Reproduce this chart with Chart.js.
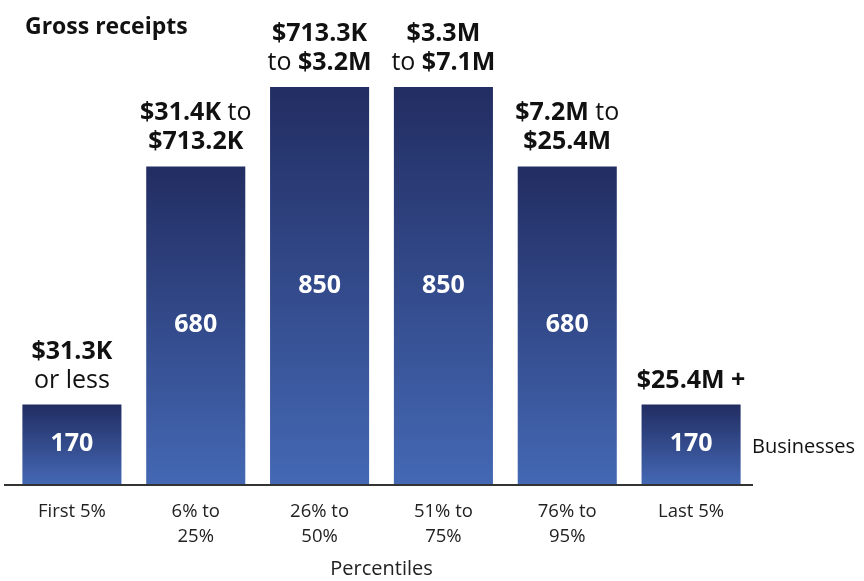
<!DOCTYPE html>
<html>
<head>
<meta charset="utf-8">
<script src="https://cdn.jsdelivr.net/npm/chart.js@4/dist/chart.umd.min.js"></script>
<style>
  html, body { margin: 0; padding: 0; background: #ffffff; }
  #wrap { width: 864px; height: 581px; position: relative; }
</style>
</head>
<body>
<div id="wrap"><canvas id="c" width="864" height="581"></canvas></div>
<script>
// ---- data ----
const categories = [
  ["First 5%"],
  ["6% to", "25%"],
  ["26% to", "50%"],
  ["51% to", "75%"],
  ["76% to", "95%"],
  ["Last 5%"]
];
const businesses = [170, 680, 850, 850, 680, 170];
// Gross-receipts range labels: lines of [text, isBold] segments
const rangeLabels = [
  [[["$31.3K", true]], [["or less", false]]],
  [[["$31.4K", true], [" to", false]], [["$713.2K", true]]],
  [[["$713.3K", true]], [["to ", false], ["$3.2M", true]]],
  [[["$3.3M", true]], [["to ", false], ["$7.1M", true]]],
  [[["$7.2M", true], [" to", false]], [["$25.4M", true]]],
  [[["$25.4M +", true]]]
];
const chartTitle = "Gross receipts";
const seriesName = "Businesses";
const axisTitle = "Percentiles";

const FONT = "'Open Sans', 'DejaVu Sans', sans-serif";

const overlay = {
  id: 'overlay',
  afterDatasetsDraw(chart) {
    const ctx = chart.ctx;
    const area = chart.chartArea;
    const meta = chart.getDatasetMeta(0);
    ctx.save();
    // axis line
    ctx.strokeStyle = '#333333';
    ctx.lineWidth = 2;
    ctx.beginPath();
    ctx.moveTo(area.left - 6, area.bottom + 1);
    ctx.lineTo(area.right, area.bottom + 1);
    ctx.stroke();

    meta.data.forEach((bar, i) => {
      // value inside bar
      ctx.fillStyle = '#ffffff';
      ctx.font = 'bold 25px ' + FONT;
      ctx.textAlign = 'center';
      ctx.textBaseline = 'middle';
      ctx.fillText(String(businesses[i]), bar.x, (bar.y + bar.base) / 2);
      // range label above bar
      ctx.textBaseline = 'alphabetic';
      const lines = rangeLabels[i];
      const lh = 29;
      lines.forEach((segs, li) => {
        const y = bar.y - 17 - (lines.length - 1 - li) * lh;
        let total = 0;
        const widths = segs.map(([t, b]) => {
          ctx.font = (b ? 'bold ' : '') + '25px ' + FONT;
          const w = ctx.measureText(t).width;
          total += w;
          return w;
        });
        let x = bar.x - total / 2;
        ctx.textAlign = 'left';
        ctx.fillStyle = '#111111';
        segs.forEach(([t, b], si) => {
          ctx.font = (b ? 'bold ' : '') + '25px ' + FONT;
          ctx.fillText(t, x, y);
          x += widths[si];
        });
      });
    });
    // title
    ctx.fillStyle = '#111111';
    ctx.textAlign = 'left';
    ctx.textBaseline = 'alphabetic';
    ctx.font = 'bold 23px ' + FONT;
    ctx.fillText(chartTitle, 25, 34);
    // series name
    ctx.font = '20px ' + FONT;
    ctx.fillText(seriesName, 752, 453);
    ctx.restore();
  }
};

const ctx = document.getElementById('c').getContext('2d');
new Chart(ctx, {
  type: 'bar',
  data: {
    labels: categories,
    datasets: [{
      label: seriesName,
      data: businesses,
      backgroundColor: (c) => {
        const chart = c.chart;
        const a = chart.chartArea;
        if (!a || c.dataIndex === undefined) return '#34498c';
        const ys = chart.scales.y;
        const top = ys.getPixelForValue(businesses[c.dataIndex]);
        const bottom = ys.getPixelForValue(0);
        const g = chart.ctx.createLinearGradient(0, top, 0, bottom);
        g.addColorStop(0, '#222d62');
        g.addColorStop(1, '#4468b4');
        return g;
      },
      borderWidth: 0,
      barPercentage: 0.8,
      categoryPercentage: 1.0
    }]
  },
  options: {
    responsive: false,
    animation: false,
    layout: { padding: { top: 17, left: 10, right: 111, bottom: 0 } },
    plugins: { legend: { display: false }, tooltip: { enabled: false } },
    scales: {
      x: {
        afterFit: (scale) => { scale.height = 97; },
        grid: { display: false, drawTicks: false },
        border: { display: false },
        ticks: {
          color: '#222222',
          font: { family: FONT, size: 18.5, lineHeight: 1.35 },
          padding: 15.5,
          maxRotation: 0
        },
        title: {
          display: true,
          text: axisTitle,
          color: '#222222',
          font: { family: FONT, size: 20, lineHeight: 1.2 },
          padding: { top: 8, bottom: 0 }
        }
      },
      y: {
        display: false,
        min: 0,
        max: 1000
      }
    }
  },
  plugins: [overlay]
});
</script>
</body>
</html>
